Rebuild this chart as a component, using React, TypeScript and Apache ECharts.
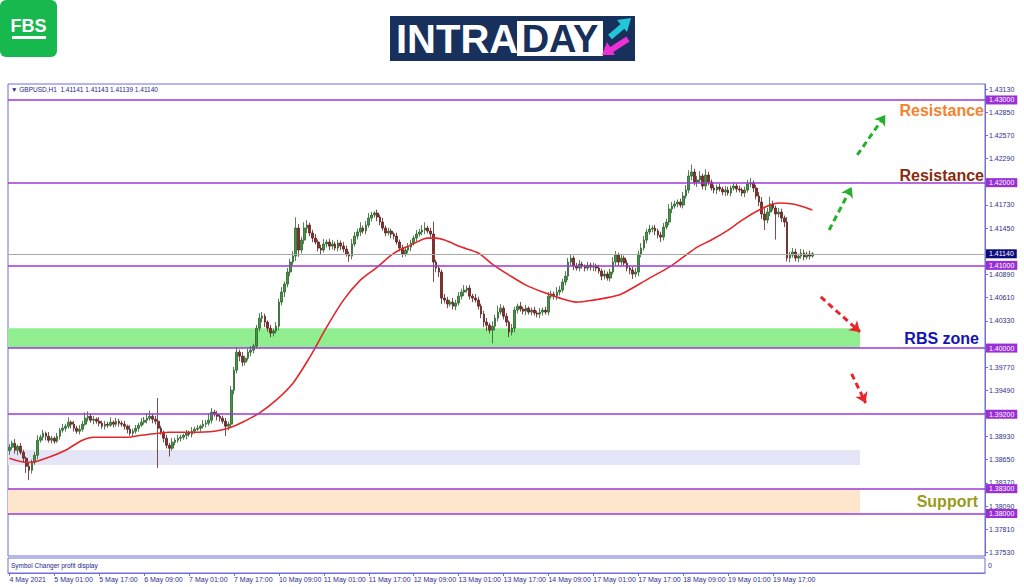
import React, { useEffect, useRef } from 'react';
import * as echarts from 'echarts';

// ---------- DATA ----------
const firstOpen = 1.3876;
const closes = [
  1.38801,1.38850,1.38765,1.38813,1.38741,1.38668,1.38571,1.38523,1.38620,1.38704,
  1.38886,1.38922,1.38971,1.38934,1.38886,1.38910,1.38874,1.38934,1.39007,1.39031,
  1.39055,1.39104,1.39080,1.39031,1.38995,1.39019,1.39080,1.39152,1.39176,1.39128,
  1.39140,1.39116,1.39092,1.39055,1.39080,1.39067,1.39104,1.39080,1.39116,1.39092,
  1.39080,1.39055,1.39019,1.38971,1.38995,1.39031,1.39067,1.39104,1.39128,1.39152,
  1.39176,1.39140,1.39116,1.39031,1.38983,1.38910,1.38825,1.38789,1.38862,1.38886,
  1.38910,1.38922,1.38946,1.38971,1.38959,1.38995,1.39019,1.39031,1.39055,1.39080,
  1.39092,1.39128,1.39225,1.39201,1.39176,1.39152,1.39116,1.39055,1.39080,1.39491,
  1.39733,1.39951,1.39902,1.39830,1.39878,1.39951,1.39975,1.40023,1.40241,1.40362,
  1.40386,1.40314,1.40241,1.40181,1.40205,1.40265,1.40556,1.40677,1.40774,1.40919,
  1.41040,1.41112,1.41451,1.41185,1.41306,1.41451,1.41487,1.41391,1.41330,1.41282,
  1.41209,1.41185,1.41258,1.41282,1.41233,1.41258,1.41209,1.41270,1.41233,1.41197,
  1.41137,1.41112,1.41258,1.41354,1.41403,1.41451,1.41415,1.41487,1.41572,1.41608,
  1.41633,1.41584,1.41524,1.41451,1.41391,1.41415,1.41379,1.41354,1.41282,1.41209,
  1.41137,1.41185,1.41221,1.41270,1.41330,1.41379,1.41403,1.41427,1.41451,1.41415,
  1.41379,1.41040,1.40967,1.40919,1.40604,1.40580,1.40532,1.40556,1.40507,1.40544,
  1.40628,1.40677,1.40701,1.40725,1.40628,1.40604,1.40580,1.40507,1.40411,1.40314,
  1.40277,1.40217,1.40265,1.40362,1.40435,1.40483,1.40386,1.40314,1.40193,1.40241,
  1.40459,1.40507,1.40471,1.40447,1.40483,1.40435,1.40459,1.40423,1.40411,1.40435,
  1.40459,1.40435,1.40628,1.40653,1.40628,1.40677,1.40701,1.40798,1.40870,1.41040,
  1.41088,1.40991,1.40967,1.41016,1.40991,1.40967,1.41003,1.40979,1.40991,1.40967,
  1.40931,1.40870,1.40895,1.40846,1.40919,1.41040,1.41124,1.41040,1.41088,1.41028,
  1.40967,1.40943,1.40895,1.40919,1.41137,1.41209,1.41306,1.41403,1.41439,1.41451,
  1.41415,1.41366,1.41342,1.41463,1.41524,1.41681,1.41717,1.41742,1.41766,1.41729,
  1.41838,1.41911,1.42080,1.42129,1.42008,1.42032,1.42080,1.41959,1.42092,1.42008,
  1.41935,1.41911,1.41947,1.41923,1.41887,1.41911,1.41875,1.41935,1.41959,1.41923,
  1.41911,1.41875,1.41911,1.41984,1.41996,1.41935,1.41838,1.41766,1.41621,1.41548,
  1.41645,1.41742,1.41693,1.41621,1.41645,1.41572,1.41524,1.41088,1.41124,1.41161,
  1.41088,1.41112,1.41149,1.41100,1.41137,1.41112,1.41140,
];
// wick lengths in pips above / below the body
const upWick = [
  4,3,5,2,4,3,2,5,3,4,6,3,4,2,5,3,2,4,3,5,
  3,6,2,4,3,5,4,7,6,3,4,2,5,3,4,3,6,2,4,3,
  3,4,2,5,3,4,3,5,4,6,7,3,4,28,3,2,4,3,5,3,
  4,3,2,4,3,5,3,4,2,5,4,8,5,3,4,2,3,4,3,5,
  4,6,3,5,3,4,5,3,4,6,5,3,2,4,3,5,4,6,3,5,
  4,6,13,5,4,7,6,3,4,5,3,4,6,3,4,5,3,4,3,5,
  4,3,6,5,4,7,3,5,6,4,2,4,3,5,3,4,3,2,4,3,
  4,3,5,4,3,5,4,6,7,3,4,15,3,4,3,5,4,3,5,4,
  5,4,6,3,4,3,5,4,3,4,5,3,6,4,8,5,3,4,2,5,
  4,3,5,3,4,2,3,4,3,5,3,4,5,4,3,6,5,4,6,5,
  4,3,4,5,3,2,4,3,4,3,4,3,5,3,4,6,5,3,4,3,
  4,3,4,5,4,6,5,4,5,3,4,3,4,5,4,6,5,4,3,4,
  5,6,7,9,4,5,6,3,7,4,3,4,3,4,3,5,4,3,4,3,
  4,3,4,5,6,3,4,5,6,7,5,9,4,3,5,4,3,6,4,5,
  4,3,5,4,3,4,2,
];
const downWick = [
  5,3,4,6,3,5,8,12,4,3,5,3,4,5,3,4,3,2,4,3,
  4,3,5,4,3,4,3,2,4,3,5,3,4,3,4,3,2,4,3,4,
  3,4,5,3,4,3,4,2,3,4,3,5,4,48,3,5,4,10,3,4,
  3,4,3,5,3,4,3,2,4,3,4,3,4,3,5,4,3,12,5,4,
  5,4,6,5,4,3,5,4,3,4,5,6,4,5,4,3,5,4,6,4,
  5,4,6,8,4,5,6,4,5,3,4,6,3,4,5,4,3,4,5,4,
  3,7,4,3,4,5,3,4,3,4,3,5,4,3,4,3,5,4,3,4,
  4,3,4,5,3,4,3,4,5,3,4,24,5,6,7,4,5,3,4,5,
  3,4,5,3,4,5,3,4,5,6,7,4,16,5,4,3,4,5,6,4,
  5,4,3,4,5,3,4,3,4,5,4,3,4,3,4,5,4,3,4,5,
  4,5,3,4,3,4,3,4,5,4,3,5,4,3,4,3,4,5,4,3,
  4,5,6,4,5,4,3,4,3,4,5,4,6,4,3,4,5,3,4,3,
  4,3,4,5,4,6,3,4,5,4,3,4,5,3,4,5,3,4,3,4,
  3,4,5,3,4,5,4,5,6,12,4,5,3,31,4,5,6,4,5,3,
  4,5,3,4,3,4,2,
];
// moving average: [candle index, price]
const maPoints = [
  [0,1.38668],[6,1.38620],[8,1.38620],[14,1.38680],[20,1.38765],[26,1.38886],[30,1.38922],
  [38,1.38922],[42,1.38922],[47,1.38946],[53,1.38971],[57,1.38983],[65,1.38983],[73,1.38995],
  [78,1.39031],[83,1.39104],[89,1.39213],[95,1.39370],[101,1.39576],[107,1.39890],[113,1.40253],
  [119,1.40580],[125,1.40822],[131,1.40979],[137,1.41149],[143,1.41245],[149,1.41330],[152,1.41330],
  [155,1.41306],[161,1.41221],[167,1.41149],[172,1.41016],[178,1.40882],[184,1.40761],[190,1.40677],
  [196,1.40604],[202,1.40556],[208,1.40580],[214,1.40616],[218,1.40653],[228,1.40846],[235,1.40979],
  [240,1.41100],[245,1.41221],[250,1.41306],[256,1.41427],[261,1.41548],[267,1.41669],[271,1.41730],
  [274,1.41754],[279,1.41742],[283,1.41706],[286,1.41669],
];
const xTickLabels = [
  '4 May 2021','5 May 01:00','5 May 17:00','6 May 09:00','7 May 01:00','7 May 17:00',
  '10 May 09:00','11 May 01:00','11 May 17:00','12 May 09:00','13 May 01:00','13 May 17:00',
  '14 May 09:00','17 May 01:00','17 May 17:00','18 May 09:00','19 May 01:00','19 May 17:00',
];
const xTickStep = 16;
const totalSlots = 348;
const yTicks = [
  1.3753,1.3781,1.3809,1.3837,1.3865,1.3893,1.3921,1.3949,1.3977,1.4005,1.4033,
  1.4061,1.4089,1.4117,1.4145,1.4173,1.4201,1.4229,1.4257,1.4285,1.4313,
];
// tick labels that are not covered by a level box
const yTickLabels = [
  1.3753,1.3781,1.3809,1.3837,1.3865,1.3893,1.3949,1.3977,1.4033,
  1.4061,1.4089,1.4145,1.4173,1.4229,1.4257,1.4285,1.4313,
];
const yMin = 1.37486;
const yMax = 1.43193;
const levels = [1.43, 1.42, 1.41, 1.40, 1.392, 1.383, 1.38];
const currentPrice = 1.4114;
const zoneEnd = '303';
const greenZone = [1.40, 1.4024];
const lavenderZone = [1.38586, 1.38768];
const peachZone = [1.38, 1.383];
const greenArrows = [
  [292, 1.41428, 300, 1.41948],
  [302, 1.42335, 312, 1.42819],
];
const redArrows = [
  [289, 1.40618, 303, 1.40195],
  [300, 1.39687, 305, 1.39336],
];

// ---------- STYLE ----------
const FRAME = '#6f6fd6';
const AXIS_TEXT = '#2e2e90';
const PURPLE = '#9d3ad4';
const FONT = '"Liberation Sans", Arial, sans-serif';

export default function App() {
  const ref = useRef<HTMLDivElement>(null);

  useEffect(() => {
    if (!ref.current) return;
    const chart = echarts.init(ref.current, undefined, { renderer: 'svg' });

    const cats = Array.from({ length: totalSlots }, (_, i) => String(i));
    const candleData = closes.map((c, i) => {
      const o = i === 0 ? firstOpen : closes[i - 1];
      const hi = Math.max(o, c) + upWick[i] * 0.0001;
      const lo = Math.min(o, c) - downWick[i] * 0.0001;
      return [o, c, lo, hi];
    });

    const tickFilter = (i: number) => i % xTickStep === 0 && i / xTickStep < xTickLabels.length;

    const levelLabel = (bg: string) => ({
      show: true,
      position: 'end',
      distance: 1,
      formatter: (p: any) => Number(p.value).toFixed(5),
      backgroundColor: bg,
      color: '#ffffff',
      fontSize: 7,
      fontFamily: FONT,
      padding: [1, 3, 1, 3],
    });

    const arrowItems = (list: number[][], color: string) =>
      list.map((a) => [
        { coord: [String(a[0]), a[1]], symbol: 'none' },
        {
          coord: [String(a[2]), a[3]],
          symbol: 'arrow',
          symbolSize: 10,
          lineStyle: { color, width: 3, type: [6, 4] },
          itemStyle: { color },
        },
      ]);

    const option: any = {
      animation: false,
      backgroundColor: '#ffffff',
      textStyle: { fontFamily: FONT },
      grid: [
        { left: 8, right: 39, top: 84, height: 472, show: true, borderColor: FRAME, borderWidth: 1 },
        { left: 8, right: 39, top: 558, height: 15, show: true, borderColor: FRAME, borderWidth: 1 },
      ],
      xAxis: [
        {
          type: 'category', gridIndex: 0, data: cats, boundaryGap: true,
          axisLine: { show: false }, axisTick: { show: false }, axisLabel: { show: false },
          splitLine: { show: false },
        },
        {
          type: 'category', gridIndex: 1, data: cats, boundaryGap: true,
          axisLine: { show: true, lineStyle: { color: FRAME, width: 1 } },
          axisTick: {
            show: true, interval: tickFilter, alignWithLabel: true, length: 3,
            lineStyle: { color: FRAME },
          },
          axisLabel: {
            show: true, interval: tickFilter, align: 'left', fontSize: 7, color: AXIS_TEXT,
            margin: 3,
            formatter: (_v: string, idx: number) => xTickLabels[Math.round(idx / xTickStep)] ?? '',
          },
          splitLine: { show: false },
        },
      ],
      yAxis: [
        {
          type: 'value', gridIndex: 0, position: 'right', min: yMin, max: yMax,
          axisLine: { show: true, lineStyle: { color: FRAME, width: 1 } },
          axisTick: { show: true, customValues: yTicks, length: 3, lineStyle: { color: FRAME } },
          axisLabel: {
            show: true, customValues: yTickLabels, fontSize: 7, color: AXIS_TEXT, margin: 4,
            formatter: (v: number) => v.toFixed(5),
          },
          splitLine: { show: false },
        },
        { type: 'value', gridIndex: 1, min: 0, max: 1, show: false },
      ],
      series: [
        {
          name: 'zones', type: 'line', xAxisIndex: 0, yAxisIndex: 0, data: [], z: 1,
          markArea: {
            silent: true,
            data: [
              [{ yAxis: greenZone[0], itemStyle: { color: '#90ee90' } }, { yAxis: greenZone[1], xAxis: zoneEnd }],
              [{ yAxis: lavenderZone[0], itemStyle: { color: '#e5e5f8' } }, { yAxis: lavenderZone[1], xAxis: zoneEnd }],
              [{ yAxis: peachZone[0], itemStyle: { color: '#fde6cc' } }, { yAxis: peachZone[1], xAxis: zoneEnd }],
            ],
          },
        },
        {
          name: 'levels', type: 'line', xAxisIndex: 0, yAxisIndex: 0, data: [], z: 2,
          markLine: {
            silent: true,
            precision: 5,
            symbol: ['none', 'none'],
            data: [
              ...levels.map((v) => ({
                yAxis: v,
                lineStyle: { color: PURPLE, width: 1.6, type: 'solid' },
                label: levelLabel('#9b2fd6'),
              })),
              {
                yAxis: currentPrice,
                lineStyle: { color: '#a8a8a8', width: 1, type: 'solid' },
                label: levelLabel('#0c0c80'),
              },
            ],
          },
        },
        {
          name: 'GBPUSD', type: 'candlestick', xAxisIndex: 0, yAxisIndex: 0, data: candleData,
          barWidth: 2.2, z: 3,
          itemStyle: {
            color: '#3d9b3f', color0: '#8e2a2a',
            borderColor: '#2b5f2c', borderColor0: '#5a2020', borderWidth: 0.8,
          },
        },
        {
          name: 'MA', type: 'line', xAxisIndex: 0, yAxisIndex: 0, data: maPoints, z: 4,
          smooth: 0.3, symbol: 'none', lineStyle: { color: '#e3262a', width: 1.6 },
        },
        {
          name: 'arrows', type: 'line', xAxisIndex: 0, yAxisIndex: 0, data: [], z: 5,
          markLine: {
            silent: true,
            precision: 5,
            label: { show: false },
            data: [...arrowItems(greenArrows, '#23b02a'), ...arrowItems(redArrows, '#e8262a')],
          },
        },
      ],
      graphic: [
        // FBS logo
        { type: 'rect', shape: { x: 0, y: 0, width: 57, height: 57, r: 6 }, style: { fill: '#17b84d' } },
        {
          type: 'text', x: 28.5, y: 26,
          style: { text: 'FBS', fill: '#ffffff', font: `bold 18px ${FONT}`, align: 'center', verticalAlign: 'middle', textAlign: 'center', textVerticalAlign: 'middle' },
        },
        { type: 'rect', shape: { x: 12, y: 36, width: 34, height: 3 }, style: { fill: '#ffffff' } },
        // INTRADAY logo
        { type: 'rect', shape: { x: 390, y: 16, width: 245, height: 45 }, style: { fill: '#17305c' } },
        {
          type: 'text', x: 396, y: 39,
          style: { text: 'INTRA', fill: '#ffffff', font: `bold 40px ${FONT}`, align: 'left', verticalAlign: 'middle', textAlign: 'left', textVerticalAlign: 'middle' },
        },
        { type: 'rect', shape: { x: 517, y: 21, width: 86, height: 35 }, style: { fill: '#ffffff' } },
        {
          type: 'text', x: 560, y: 39,
          style: { text: 'DAY', fill: '#17305c', font: `bold 38px ${FONT}`, align: 'center', verticalAlign: 'middle', textAlign: 'center', textVerticalAlign: 'middle' },
        },
        { type: 'line', shape: { x1: 610, y1: 37, x2: 623, y2: 26 }, style: { stroke: '#22c6d6', lineWidth: 6 } },
        { type: 'polygon', shape: { points: [[631, 18], [627, 32], [617, 20]] }, style: { fill: '#22c6d6' } },
        { type: 'line', shape: { x1: 628, y1: 39, x2: 611, y2: 50 }, style: { stroke: '#ee2fd4', lineWidth: 6 } },
        { type: 'polygon', shape: { points: [[602, 55], [615, 55], [607, 42]] }, style: { fill: '#ee2fd4' } },
        // header
        {
          type: 'text', x: 11, y: 89,
          style: { text: '\u25BC GBPUSD,H1  1.41141 1.41143 1.41139 1.41140', fill: '#24248c', font: `6.5px ${FONT}`, verticalAlign: 'middle', textVerticalAlign: 'middle' },
        },
        // sub window
        {
          type: 'text', x: 11, y: 565,
          style: { text: 'Symbol Changer profit display', fill: '#24248c', font: `6.5px ${FONT}`, verticalAlign: 'middle', textVerticalAlign: 'middle' },
        },
        {
          type: 'text', x: 988, y: 565,
          style: { text: '0', fill: AXIS_TEXT, font: `7px ${FONT}`, verticalAlign: 'middle', textVerticalAlign: 'middle' },
        },
        // annotations
        {
          type: 'text', x: 984, y: 110,
          style: { text: 'Resistance', fill: '#f5822d', font: `bold 16px ${FONT}`, align: 'right', verticalAlign: 'middle', textAlign: 'right', textVerticalAlign: 'middle' },
        },
        {
          type: 'text', x: 984, y: 175,
          style: { text: 'Resistance', fill: '#8c2a0c', font: `bold 16px ${FONT}`, align: 'right', verticalAlign: 'middle', textAlign: 'right', textVerticalAlign: 'middle' },
        },
        {
          type: 'text', x: 979, y: 338,
          style: { text: 'RBS zone', fill: '#1414b4', font: `bold 16px ${FONT}`, align: 'right', verticalAlign: 'middle', textAlign: 'right', textVerticalAlign: 'middle' },
        },
        {
          type: 'text', x: 978, y: 501,
          style: { text: 'Support', fill: '#9a9a1c', font: `bold 16px ${FONT}`, align: 'right', verticalAlign: 'middle', textAlign: 'right', textVerticalAlign: 'middle' },
        },
      ],
    };

    chart.setOption(option);
    return () => chart.dispose();
  }, []);

  return (
    <div
      ref={ref}
      style={{ position: 'fixed', left: 0, top: 0, width: 1024, height: 587, background: '#fff' }}
    />
  );
}
